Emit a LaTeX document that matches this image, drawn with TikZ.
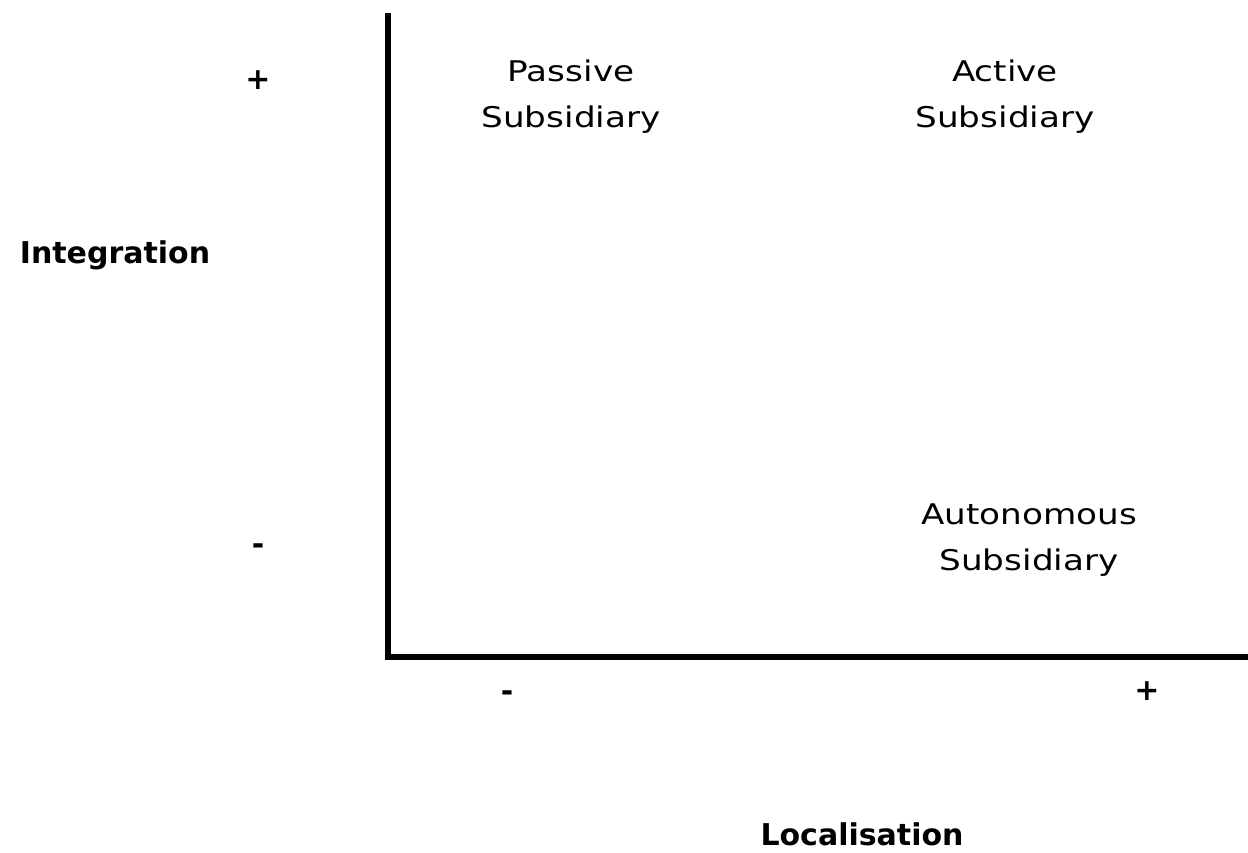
\documentclass[tikz,border=0pt]{standalone}
\usepackage{fontspec}
\newfontfamily\cs[FakeStretch=1.2]{DejaVu Sans}
\newfontfamily\csb{DejaVu Sans}
\begin{document}
\begin{tikzpicture}[x=1pt,y=-1pt,
  axis/.style={line width=5.5pt},
  quad/.style={font=\cs\fontsize{28.5}{46}\selectfont, align=center, inner sep=0pt, anchor=north},
  axlabel/.style={font=\csb\bfseries\fontsize{30}{34}\selectfont, inner sep=0pt, anchor=base},
  sign/.style={font=\csb\bfseries\fontsize{30}{34}\selectfont, inner sep=0pt, anchor=center}]
\useasboundingbox (0,0) rectangle (1248,853);
\coordinate (top) at (388,13);
\coordinate (origin) at (388,657);
\coordinate (right) at (1248,657);
\draw[axis] (top) -- (origin) -- (right);
\node[quad] (passive) at (571,60) {Passive\\Subsidiary};
\node[quad] (active) at (1005,60) {Active\\Subsidiary};
\node[quad] (auto) at (1029,504) {Autonomous\\Subsidiary};
\node[axlabel] (integ) at (115,263) {Integration};
\node[axlabel] (local) at (862,845) {Localisation};
\node[sign] (yplus) at (258,80) {+};
\node[sign] (yminus) at (258,549) {-};
\node[sign] (xminus) at (507,696) {-};
\node[sign] (xplus) at (1147,691) {+};
\end{tikzpicture}
\end{document}
